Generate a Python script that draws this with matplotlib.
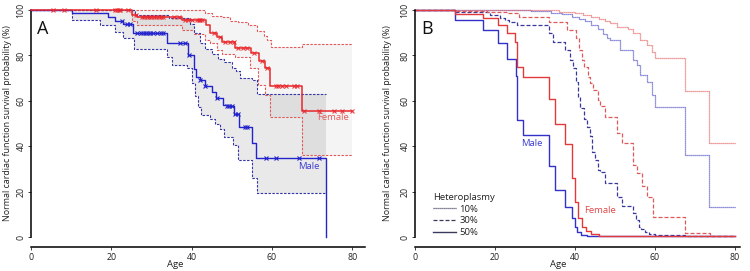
import numpy as np
import matplotlib
matplotlib.use("Agg")
import matplotlib.pyplot as plt
from matplotlib.lines import Line2D

plt.rcParams['font.family'] = ['Open Sans', 'DejaVu Sans']

# ---------------- Panel A data (Kaplan-Meier by sex) ----------------
male_t = [0, 10.1, 19.3, 20.9, 23.0, 25.5, 33.8, 39.2, 40.5, 41.0, 42.1, 43.3, 45.0, 46.2, 47.9, 48.8, 50.5, 51.7, 55.0, 56.1, 73.6]
male_s = [100, 98.5, 97.0, 95.3, 93.8, 89.7, 85.3, 80.2, 74.0, 70.6, 69.2, 66.5, 64.0, 61.1, 58.1, 57.5, 54.0, 48.5, 41.5, 34.6, 0]
male_up_t = [0, 26.0, 34.5, 39.5, 40.5, 42.1, 43.3, 45.2, 46.5, 48.0, 50.1, 51.0, 52.0, 55.0, 56.2, 73.6]
male_up_s = [100, 98.0, 96.5, 94.0, 89.7, 85.3, 83.0, 80.5, 78.5, 77.2, 74.3, 73.0, 69.9, 69.0, 62.9, 62.9]
male_lo_t = [0, 10.1, 17.2, 20.9, 23.0, 25.7, 33.8, 35.1, 38.8, 40.2, 40.8, 41.5, 42.4, 44.5, 45.8, 47.0, 48.0, 50.4, 51.6, 55.0, 56.2, 73.6]
male_lo_s = [100, 95.6, 93.4, 90.4, 87.5, 82.7, 79.4, 75.8, 74.3, 68.0, 62.0, 57.4, 53.7, 52.0, 50.0, 47.5, 44.2, 40.5, 33.9, 25.8, 19.2, 19.2]
male_cens = [22.6, 23.9, 24.7, 26.4, 27.3, 28.0, 28.6, 29.1, 29.7, 30.3, 31.4, 32.4, 33.0, 37.2, 38.4, 39.4, 42.2, 43.4, 46.3, 48.8, 49.4, 50.0, 50.8, 51.5, 53.4, 53.8, 58.6, 61.1, 66.7, 71.7]

fem_t = [0, 25.2, 26.5, 37.6, 43.6, 44.7, 46.3, 47.6, 50.9, 54.8, 56.8, 58.3, 59.6, 67.5, 80]
fem_s = [100, 97.8, 97.0, 95.4, 93.4, 89.7, 88.0, 85.8, 83.4, 80.9, 77.6, 74.3, 66.6, 55.7, 55.7]
fem_up_t = [0, 43.4, 45.0, 47.5, 49.6, 51.5, 54.0, 56.3, 58.0, 58.8, 59.8, 67.5, 80]
fem_up_s = [100, 98.5, 97.5, 96.8, 95.3, 94.5, 93.3, 90.8, 88.6, 86.8, 83.9, 85.0, 85.0]
fem_lo_t = [0, 25.2, 26.5, 37.6, 40.5, 43.4, 44.7, 46.3, 47.6, 50.9, 54.6, 56.6, 58.3, 59.6, 67.5, 80]
fem_lo_s = [100, 95.0, 93.4, 91.2, 89.5, 86.8, 85.3, 82.4, 80.5, 79.4, 74.3, 67.0, 62.6, 52.7, 36.0, 36.0]
fem_cens = [5.6, 8.1, 16.2, 21.0, 21.4, 21.8, 22.2, 24.1, 26.2, 27.6, 28.2, 28.8, 29.4, 30.0, 30.6, 31.2, 31.8, 32.4, 33.0,
            35.5, 36.8, 38.4, 39.2, 40.0, 41.3, 41.8, 42.2, 42.6, 45.5, 47.1, 48.4, 49.6, 50.5, 51.5, 52.8, 53.8, 55.5,
            57.5, 58.8, 61.0, 61.6, 62.6, 63.4, 65.4, 66.3, 67.9, 71.7, 75.4, 77.5, 80.0]

# ---------------- Panel B data (model by heteroplasmy) ----------------
m10_t = [0, 20, 29, 34, 36.7, 39.2, 41, 42.5, 44, 45.7, 47, 48, 48.75, 51.25, 54.6, 55.4, 56.25, 57.9, 59.2, 60, 67.5, 73.6, 80]
m10_s = [100, 99.8, 99.5, 98.8, 98.2, 97, 96, 95, 93.4, 91.5, 89.5, 87.5, 86.8, 82.4, 78, 75.8, 71.4, 68.4, 62.6, 57.4, 36.1, 13.4, 13.4]
f10_t = [0, 30, 36, 40, 42, 44, 46, 47.5, 48.75, 50.4, 53.3, 54.6, 56.25, 57.9, 59.2, 60, 67.5, 73.6, 80]
f10_s = [100, 99.8, 99.3, 98.8, 98, 97, 96, 95, 94.4, 92.6, 91.6, 89.7, 86.8, 84.6, 81.6, 78.7, 64.5, 41.5, 41.5]
m30_t = [0, 10, 15, 18.75, 21.25, 22.5, 23.5, 25.5, 33.6, 34.6, 37.5, 38.75, 39.6, 40.3, 40.7, 41.2, 42.2, 43, 43.75, 44.3, 45,
         45.7, 46.2, 47.5, 50.4, 51.7, 54.6, 55.2, 55.9, 56.6, 57.5, 58.5, 59.9, 67.5, 80]
m30_s = [100, 99.3, 99, 97.8, 96.5, 95.5, 94.5, 93.4, 89.7, 85.9, 82.4, 78, 74.3, 68.5, 61.8, 56.7, 52, 48.6, 44.3, 37.6, 33.9,
         29.5, 28.8, 23.6, 17.8, 13.7, 10.5, 7.5, 4.5, 3.4, 2.4, 1.4, 0.8, 0.3, 0.3]
f30_t = [0, 10, 18, 23, 26, 33.6, 38.1, 40.25, 41, 41.7, 42.3, 43.3, 43.8, 44.6, 45.7, 46.2, 47.5, 50.4, 51.7, 54.6, 55.4,
         56.7, 57.9, 59.6, 67.5, 73.75, 80]
f30_s = [100, 99.6, 99.2, 98.5, 97, 94.9, 91.2, 87.5, 82.4, 78, 75, 70.6, 67.7, 64.8, 60.4, 57.7, 53, 45.7, 41.5, 31.7, 28,
         22.5, 17.8, 9, 1.6, 0.4, 0.4]
m50_t = [0, 10, 17.1, 20.8, 22.9, 25.25, 25.5, 26.9, 33.6, 35, 37.5, 39.2, 40, 40.4, 41.5, 43, 80]
m50_s = [100, 95.6, 91.2, 85.6, 78.3, 70.9, 51.5, 45, 31.4, 20.7, 13.2, 8.3, 4.5, 2, 1, 0.4, 0.4]
f50_t = [0, 10, 17.1, 20.8, 22.9, 25.1, 25.4, 26.9, 33.6, 35, 37.5, 39.2, 40, 40.8, 41.7, 42.8, 44, 46, 50, 80]
f50_s = [100, 98.2, 96.3, 93.4, 90, 86, 75, 70.3, 60.6, 50, 41, 26, 15.5, 8.3, 4.5, 2.5, 1.2, 0.6, 0.4, 0.4]

legend_labels = ['10%', '30%', '50%']
legend_title = 'Heteroplasmy'
xticks = [0, 20, 40, 60, 80]
yticks = [0, 20, 40, 60, 80, 100]
xlabel = 'Age'
ylabel = 'Normal cardiac function survival probability (%)'

# ---------------- styles ----------------
RED = '#e8262b'
BLUE = '#2424cc'
RED_CI = '#e45a5a'
BLUE_CI = '#3434a8'
TICK_FS = 6.3
TXT_FS = 6.8
YLAB_FS = 6.4


def step_at(t, s, x):
    t = np.asarray(t); s = np.asarray(s)
    idx = np.clip(np.searchsorted(t, x, side='right') - 1, 0, len(s) - 1)
    return s[idx]


def ci_fill(ax, lo_t, lo_s, up_t, up_s, alpha):
    grid = np.array(sorted(set(lo_t) | set(up_t)))
    lo = step_at(lo_t, lo_s, grid)
    up = step_at(up_t, up_s, grid)
    ax.fill_between(grid, lo, up, step='post', color='black', alpha=alpha, lw=0, zorder=1)


def style_axes(ax, xmax):
    ax.set_xlim(0, xmax)
    ax.set_ylim(0, 100)
    for sp in ['top', 'right']:
        ax.spines[sp].set_visible(False)
    ax.spines['left'].set_bounds(0, 100)
    ax.spines['bottom'].set_bounds(0, xmax)
    ax.spines['bottom'].set_position(('outward', 7.2))
    ax.spines['left'].set_linewidth(1.1)
    ax.spines['bottom'].set_linewidth(1.1)
    ax.set_xticks(xticks)
    ax.set_yticks(yticks)
    ax.tick_params(axis='both', length=2.5, width=0.6, labelsize=TICK_FS, pad=1.5, colors='#222222')
    ax.tick_params(axis='y', labelrotation=90)
    for lab in ax.get_yticklabels():
        lab.set_va('center')
    ax.set_xlabel(xlabel, fontsize=TXT_FS, color='#222222')
    ax.set_ylabel(ylabel, fontsize=YLAB_FS, color='#222222')


W, H = 750, 271
fig = plt.figure(figsize=(7.5, 2.71), dpi=100)

axA = fig.add_axes([31 / W, (H - 237) / H, 334 / W, 227 / H])
axB = fig.add_axes([415 / W, (H - 237) / H, 325 / W, 227 / H])

# ---- Panel A ----
ci_fill(axA, fem_lo_t, fem_lo_s, fem_up_t, fem_up_s, 0.045)
ci_fill(axA, male_lo_t, male_lo_s, male_up_t, male_up_s, 0.085)
dash_ci = (0, (2.2, 1.3))
axA.step(fem_up_t, fem_up_s, where='post', color=RED_CI, lw=0.8, ls=dash_ci, zorder=2, clip_on=False)
axA.step(fem_lo_t, fem_lo_s, where='post', color=RED_CI, lw=0.8, ls=dash_ci, zorder=2, clip_on=False)
axA.step(male_up_t, male_up_s, where='post', color=BLUE_CI, lw=0.8, ls=dash_ci, zorder=2, clip_on=False)
axA.step(male_lo_t, male_lo_s, where='post', color=BLUE_CI, lw=0.8, ls=dash_ci, zorder=2, clip_on=False)
axA.step(male_t, male_s, where='post', color=BLUE, lw=1.0, zorder=3, clip_on=False)
axA.step(fem_t, fem_s, where='post', color=RED, lw=1.1, zorder=4, clip_on=False)
axA.plot(male_cens, step_at(male_t, male_s, male_cens), ls='none', marker='x', ms=2.6, mew=0.8,
         color=BLUE, zorder=5, clip_on=False)
axA.plot(fem_cens, step_at(fem_t, fem_s, fem_cens), ls='none', marker='x', ms=2.6, mew=0.8,
         color=RED, alpha=0.85, zorder=6, clip_on=False)
axA.text(75.2, 52.8, 'Female', color=RED_CI, fontsize=TXT_FS, ha='center', va='center')
axA.text(69.3, 31.0, 'Male', color='#3c3cd0', fontsize=TXT_FS, ha='center', va='center')
style_axes(axA, 83.2)
axA.yaxis.set_label_coords(-0.056, 0.5)
axA.xaxis.set_label_coords(0.431, -0.102)
axA.text(0.018, 0.955, 'A', transform=axA.transAxes, fontsize=13, ha='left', va='top', color='#111111')

# ---- Panel B ----
dotted = (0, (0.9, 0.7))
dashed = (0, (3.2, 1.6))
axB.step(m10_t, m10_s, where='post', color='#4d4dc4', lw=0.9, ls=dotted, clip_on=False)
axB.step(f10_t, f10_s, where='post', color='#e46464', lw=0.9, ls=dotted, clip_on=False)
axB.step(m30_t, m30_s, where='post', color='#38389c', lw=0.9, ls=dashed, clip_on=False)
axB.step(f30_t, f30_s, where='post', color='#dc5a5a', lw=0.9, ls=dashed, clip_on=False)
axB.step(m50_t, m50_s, where='post', color='#3232c8', lw=1.0, clip_on=False)
axB.step(f50_t, f50_s, where='post', color='#e23a3a', lw=1.0, clip_on=False)
axB.text(29.3, 41.0, 'Male', color='#3c3cd0', fontsize=TXT_FS, ha='center', va='center')
axB.text(46.2, 11.6, 'Female', color='#e04848', fontsize=TXT_FS, ha='center', va='center')
style_axes(axB, 81.25)
axB.yaxis.set_label_coords(-0.07, 0.5)
axB.xaxis.set_label_coords(0.44, -0.102)
axB.text(0.018, 0.955, 'B', transform=axB.transAxes, fontsize=13, ha='left', va='top', color='#111111')

handles = [Line2D([], [], color='#3a3a5c', lw=0.9, ls=dotted),
           Line2D([], [], color='#3a3a5c', lw=0.9, ls=dashed),
           Line2D([], [], color='#3a3a5c', lw=1.0)]
leg = axB.legend(handles, legend_labels, title=legend_title, loc='lower left', bbox_to_anchor=(0.055, 0.0),
                 frameon=False, fontsize=TXT_FS, title_fontsize=TXT_FS, handlelength=2.5, handletextpad=0.3,
                 labelspacing=0.28, borderpad=0.0, borderaxespad=0.0)
leg._legend_box.align = 'left'
for t in leg.get_texts():
    t.set_color('#222222')
leg.get_title().set_color('#222222')

fig.savefig('out.png', dpi=100)
